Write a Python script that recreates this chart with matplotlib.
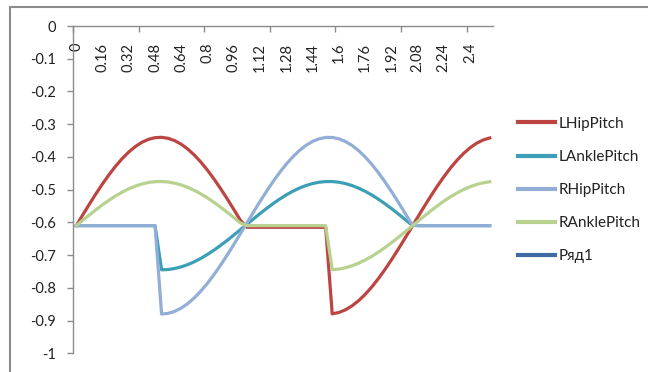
import numpy as np
import matplotlib
matplotlib.use('Agg')
import matplotlib.pyplot as plt
from matplotlib.patches import Rectangle

plt.rcParams['font.family'] = ['Lato', 'DejaVu Sans']
plt.rcParams['axes.unicode_minus'] = False

# --- data (categories are time steps of 0.04, 0 .. 2.52) ---
x_tick_labels = ['0', '0.16', '0.32', '0.48', '0.64', '0.8', '0.96', '1.12',
                 '1.28', '1.44', '1.6', '1.76', '1.92', '2.08', '2.24', '2.4']

l_hip_pitch = [
    -0.6100, -0.5768, -0.5441, -0.5125, -0.4823, -0.4540, -0.4281, -0.4050,
    -0.3849, -0.3683, -0.3553, -0.3463, -0.3412, -0.3401, -0.3432, -0.3503,
    -0.3614, -0.3762, -0.3945, -0.4162, -0.4407, -0.4679, -0.4972, -0.5281,
    -0.5604, -0.5934, -0.6150, -0.6150, -0.6150, -0.6150, -0.6150, -0.6150,
    -0.6150, -0.6150, -0.6150, -0.6150, -0.6150, -0.6150, -0.6150, -0.8795,
    -0.8754, -0.8673, -0.8553, -0.8396, -0.8204, -0.7980, -0.7727, -0.7450,
    -0.7152, -0.6839, -0.6514, -0.6183, -0.5851, -0.5522, -0.5203, -0.4897,
    -0.4609, -0.4343, -0.4105, -0.3896, -0.3721, -0.3582, -0.3482, -0.3421]

l_ankle_pitch = [
    -0.6100, -0.6100, -0.6100, -0.6100, -0.6100, -0.6100, -0.6100, -0.6100,
    -0.6100, -0.6100, -0.6100, -0.6100, -0.6100, -0.7450, -0.7440, -0.7409,
    -0.7359, -0.7289, -0.7202, -0.7098, -0.6978, -0.6846, -0.6702, -0.6549,
    -0.6389, -0.6225, -0.6058, -0.5893, -0.5731, -0.5574, -0.5425, -0.5286,
    -0.5160, -0.5048, -0.4952, -0.4874, -0.4814, -0.4773, -0.4753, -0.4753,
    -0.4773, -0.4814, -0.4874, -0.4952, -0.5048, -0.5160, -0.5286, -0.5425,
    -0.5574, -0.5731, -0.5893, -0.6058, -0.6100, -0.6100, -0.6100, -0.6100,
    -0.6100, -0.6100, -0.6100, -0.6100, -0.6100, -0.6100, -0.6100, -0.6100]

r_hip_pitch = [
    -0.6100, -0.6100, -0.6100, -0.6100, -0.6100, -0.6100, -0.6100, -0.6100,
    -0.6100, -0.6100, -0.6100, -0.6100, -0.6100, -0.8800, -0.8780, -0.8718,
    -0.8618, -0.8479, -0.8304, -0.8095, -0.7857, -0.7591, -0.7303, -0.6997,
    -0.6678, -0.6349, -0.6017, -0.5686, -0.5361, -0.5048, -0.4750, -0.4473,
    -0.4220, -0.3997, -0.3804, -0.3647, -0.3527, -0.3446, -0.3405, -0.3405,
    -0.3446, -0.3527, -0.3647, -0.3804, -0.3997, -0.4220, -0.4473, -0.4750,
    -0.5048, -0.5361, -0.5686, -0.6017, -0.6100, -0.6100, -0.6100, -0.6100,
    -0.6100, -0.6100, -0.6100, -0.6100, -0.6100, -0.6100, -0.6100, -0.6100]

r_ankle_pitch = [
    -0.6100, -0.5934, -0.5771, -0.5612, -0.5461, -0.5320, -0.5191, -0.5075,
    -0.4975, -0.4892, -0.4827, -0.4781, -0.4756, -0.4751, -0.4766, -0.4802,
    -0.4857, -0.4931, -0.5023, -0.5131, -0.5254, -0.5389, -0.5536, -0.5691,
    -0.5852, -0.6017, -0.6100, -0.6100, -0.6100, -0.6100, -0.6100, -0.6100,
    -0.6100, -0.6100, -0.6100, -0.6100, -0.6100, -0.6100, -0.6100, -0.7447,
    -0.7427, -0.7387, -0.7326, -0.7248, -0.7152, -0.7040, -0.6914, -0.6775,
    -0.6626, -0.6469, -0.6307, -0.6142, -0.5975, -0.5811, -0.5651, -0.5498,
    -0.5354, -0.5222, -0.5102, -0.4998, -0.4911, -0.4841, -0.4791, -0.4760]

ryad1 = []  # empty series, only shows up in the legend

series = [
    ('LHipPitch', l_hip_pitch, '#BC4542'),
    ('LAnklePitch', l_ankle_pitch, '#3C9FB5'),
    ('RHipPitch', r_hip_pitch, '#93AED6'),
    ('RAnklePitch', r_ankle_pitch, '#B9D18F'),
    ('Ряд1', ryad1, '#3F6BA5'),
]

# --- figure ---
fig = plt.figure(figsize=(6.48, 3.72), dpi=100)
fig.patches.append(Rectangle((10 / 648, -0.1), 1.0, 1 - 7 / 372 + 0.1,
                             transform=fig.transFigure, fill=False,
                             edgecolor='#8C8C8C', linewidth=1.5))

ax = fig.add_axes([73 / 648, 1 - 353.3 / 372, 420 / 648, (353.3 - 26) / 372])

for name, vals, color in series:
    ax.plot(np.arange(len(vals)), vals, color=color, linewidth=2.3,
            solid_joinstyle='round', label=name)

n_cat = len(l_hip_pitch)
ax.set_xlim(-0.5, n_cat - 0.5)
ax.set_ylim(-1, 0)

for side in ['top', 'right']:
    ax.spines[side].set_visible(False)
ax.spines['bottom'].set_position(('data', 0))
for side in ['bottom', 'left']:
    ax.spines[side].set_color('#8C8C8C')
    ax.spines[side].set_linewidth(1.0)

# y axis
ax.set_yticks(np.arange(0, -1.01, -0.1))
ax.yaxis.set_major_formatter(plt.FuncFormatter(lambda v, p: '%g' % round(v, 1)))
ax.tick_params(axis='y', direction='out', length=4.5, width=1.0, color='#8C8C8C',
               pad=8, labelsize=10.5, labelcolor='#222222')

# x axis: tick marks every 10 categories, labels every 4
ax.set_xticks(np.arange(-0.5, n_cat, 10))
ax.set_xticklabels([])
ax.set_xticks(np.arange(0, n_cat, 4), x_tick_labels, minor=True)
ax.tick_params(axis='x', which='major', direction='out', length=4.5, width=1.0,
               color='#8C8C8C')
ax.tick_params(axis='x', which='minor', length=0, pad=12, labelsize=10.5,
               labelcolor='#222222')
for lbl in ax.get_xticklabels(minor=True):
    lbl.set_rotation(90)
    lbl.set_va('top')
    lbl.set_ha('center')

leg = ax.legend(loc='center left', bbox_to_anchor=(518 / 648, 1 - 190 / 372),
                bbox_transform=fig.transFigure, frameon=False, fontsize=11,
                handlelength=2.4, handletextpad=0.25, labelspacing=1.25,
                borderpad=0, borderaxespad=0)
for t in leg.get_texts():
    t.set_color('#222222')
for h in leg.get_lines():
    h.set_linewidth(3)

fig.savefig('out.png', dpi=100, facecolor='white')
